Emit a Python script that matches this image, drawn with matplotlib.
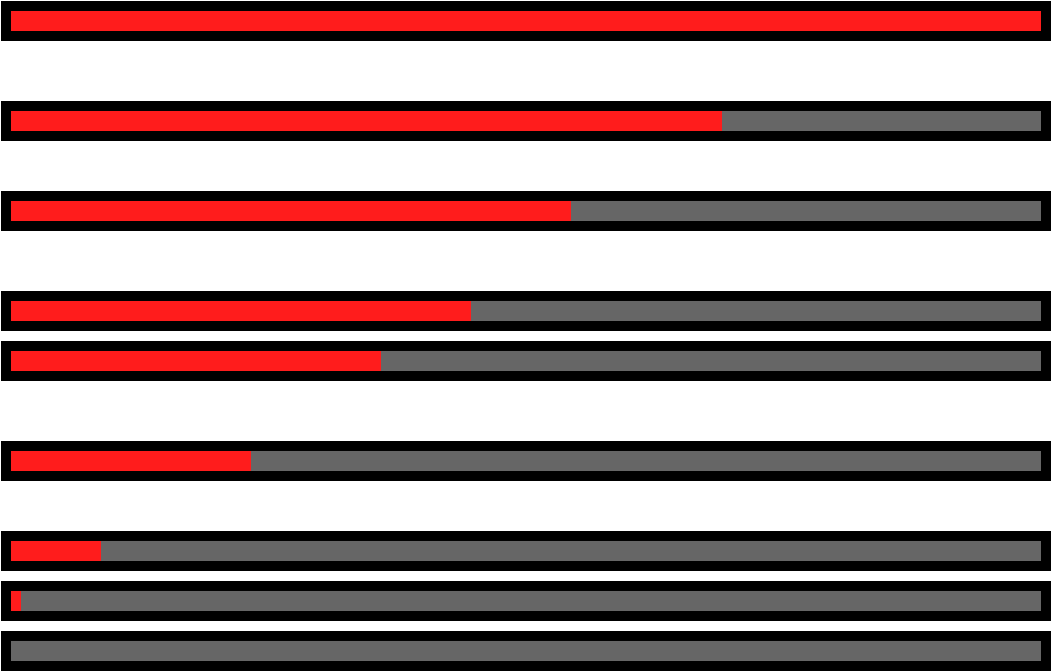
import matplotlib
matplotlib.use("Agg")
import matplotlib.pyplot as plt

# data
rows = ["r1", "r2", "r3", "r4", "r5", "r6", "r7", "r8", "r9"]
row_y = [21, 121, 211, 311, 361, 461, 551, 601, 651]
progress = [100, 69, 54.4, 44.7, 35.9, 23.3, 8.7, 1, 0]
track_max = [100] * len(rows)

W, H = 1051, 671
fig = plt.figure(figsize=(W / 100, H / 100), dpi=100)
ax = fig.add_axes([0, 0, 1, 1])

px = 10.3  # pixels per data unit
pad = 10 / px
ax.barh(row_y, [m + 2 * pad for m in track_max], left=-pad, height=40,
        color="black", linewidth=0)
ax.barh(row_y, track_max, left=0, height=20, color="#666666", linewidth=0)
ax.barh(row_y, progress, left=0, height=20, color="#ff1c1c", linewidth=0)

ax.set_xlim(-11 / px, (W - 11) / px)
ax.set_ylim(H, 0)
ax.axis("off")
fig.savefig("out.png", dpi=100, facecolor="white")
